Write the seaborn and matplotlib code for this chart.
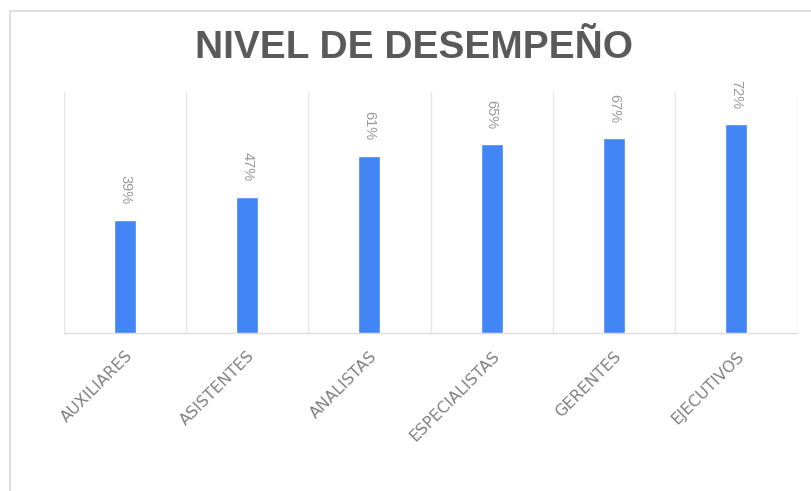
import matplotlib
matplotlib.use("Agg")
import matplotlib.pyplot as plt
import seaborn as sns
import pandas as pd
from matplotlib.patches import Rectangle

categories = ["AUXILIARES", "ASISTENTES", "ANALISTAS", "ESPECIALISTAS", "GERENTES", "EJECUTIVOS"]
values = [39, 47, 61, 65, 67, 72]
value_labels = ["39%", "47%", "61%", "65%", "67%", "72%"]
title = "NIVEL DE DESEMPEÑO"

df = pd.DataFrame({"cat": categories, "val": values})

sns.set_theme(style="white")
plt.rcParams["font.family"] = ["Liberation Sans", "DejaVu Sans"]

fig = plt.figure(figsize=(8.11, 4.91), dpi=100)
ax = fig.add_axes([64/811, 1-333/491, (797-64)/811, (333-92)/491])

sns.barplot(data=df, x="cat", y="val", color="#4285F4", width=0.18,
            saturation=1, ax=ax, zorder=3)

ax.set_xlim(-0.5, len(categories)-0.5)
ax.set_ylim(0, 83)
for b in range(len(categories)+1):
    ax.axvline(b-0.5, color="#e6e6e6", lw=1, zorder=1)
for s in ["top", "left", "right"]:
    ax.spines[s].set_visible(False)
ax.spines["bottom"].set_color("#dcdcdc")
ax.spines["bottom"].set_linewidth(1)
ax.set_yticks([])
ax.set_xlabel("")
ax.set_ylabel("")
ax.tick_params(axis="x", length=0, pad=11)
ax.set_xticks(range(len(categories)))
ax.set_xticklabels(categories, rotation=45, ha="right", rotation_mode="anchor",
                   color="#808080", fontsize=11.5, family=["DejaVu Sans"])

for i, (v, lab) in enumerate(zip(values, value_labels)):
    ax.annotate(lab, (i, v), xytext=(0, 11), textcoords="offset points",
                rotation=-90, ha="center", va="bottom", color="#999999", fontsize=10.5)

fig.text(0.51, 1-48/491, title, ha="center", va="center", fontsize=28,
         fontweight="bold", color="#5a5a5a", family=["Liberation Sans"])

fig.patches.append(Rectangle((10/811, -0.1), 1.1, 1-11/491+0.1, transform=fig.transFigure,
                             fill=False, edgecolor="#d9d9d9", lw=1.2, zorder=0))

fig.savefig("out.png", dpi=100)
